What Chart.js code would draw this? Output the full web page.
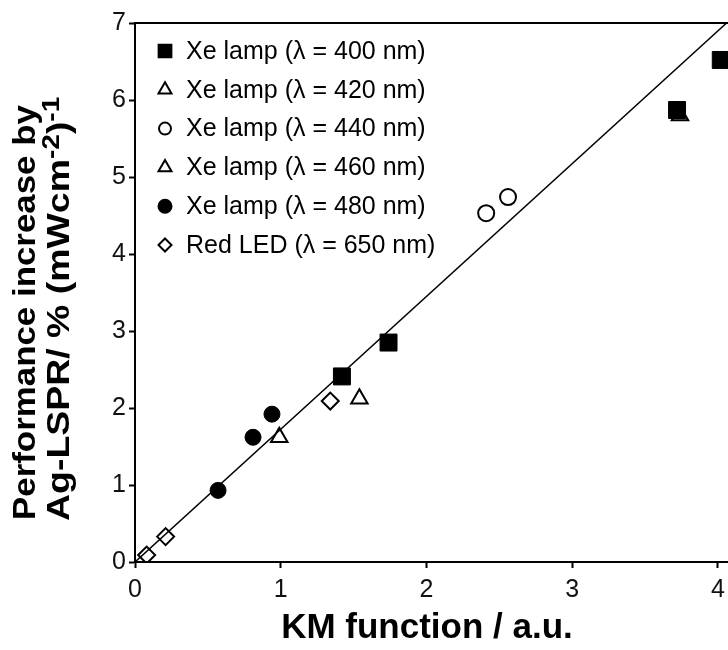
<!DOCTYPE html>
<html>
<head>
<meta charset="utf-8">
<title>KM function vs. performance increase</title>
<script src="https://cdn.jsdelivr.net/npm/chart.js@4/dist/chart.umd.min.js"></script>
<style>
  html, body { margin: 0; padding: 0; background: #fff; overflow: hidden; width: 728px; height: 650px; }
  #wrap { width: 760px; height: 650px; }
  canvas { display: block; }
</style>
</head>
<body>
<div id="wrap"><canvas id="chart" width="760" height="650"></canvas></div>
<script>
// Performance increase by Ag-LSPR versus Kubelka-Munk function, per light source
const xe400X = [1.42, 1.74, 3.72, 4.02];
const xe400Y = [2.41, 2.85, 5.87, 6.52];
const xe420X = [1.54, 3.74];
const xe420Y = [2.12, 5.80];
const xe440X = [2.41, 2.56];
const xe440Y = [4.53, 4.74];
const xe460X = [0.99];
const xe460Y = [1.62];
const xe480X = [0.57, 0.81, 0.94];
const xe480Y = [0.93, 1.62, 1.92];
const ledX = [0.08, 0.21, 1.34];
const ledY = [0.09, 0.33, 2.09];

// Linear fit through the origin (end points)
const fitX = [0, 4.06];
const fitY = [0, 7];

const seriesLabels = [
  'Xe lamp (\u03bb = 400 nm)',
  'Xe lamp (\u03bb = 420 nm)',
  'Xe lamp (\u03bb = 440 nm)',
  'Xe lamp (\u03bb = 460 nm)',
  'Xe lamp (\u03bb = 480 nm)',
  'Red LED (\u03bb = 650 nm)'
];
const xTickValues = [0, 1, 2, 3, 4];
const yTickValues = [0, 1, 2, 3, 4, 5, 6, 7];

const xTitle = 'KM function / a.u.';
const yTitleLine1 = [{ t: 'Performance increase by' }];
const yTitleLine2 = [
  { t: 'Ag-LSPR/ % (mWcm' }, { t: '-2', sup: true }, { t: ')' }, { t: '-1', sup: true }
];

const FONT = "'Liberation Sans', Arial, Helvetica, sans-serif";
const INK = '#000';

const pts = (xs, ys) => xs.map((x, i) => ({ x, y: ys[i] }));

// Marker shape used in the legend (same shapes as the plotted points)
function drawMarker(ctx, style, x, y, r, filled, bw) {
  ctx.save();
  ctx.beginPath();
  if (style === 'rect') {
    const s = r * Math.SQRT1_2;
    ctx.rect(x - s, y - s, 2 * s, 2 * s);
  } else if (style === 'circle') {
    ctx.arc(x, y, r, 0, Math.PI * 2);
  } else if (style === 'triangle') {
    const a = Math.PI * 2 / 3;
    ctx.moveTo(x, y - r);
    ctx.lineTo(x + Math.sin(a) * r, y - Math.cos(a) * r);
    ctx.lineTo(x + Math.sin(2 * a) * r, y - Math.cos(2 * a) * r);
  } else if (style === 'rectRot') {
    ctx.moveTo(x - r, y);
    ctx.lineTo(x, y - r);
    ctx.lineTo(x + r, y);
    ctx.lineTo(x, y + r);
  }
  ctx.closePath();
  ctx.lineWidth = bw;
  ctx.strokeStyle = INK;
  if (filled) { ctx.fillStyle = INK; ctx.fill(); }
  ctx.stroke();
  ctx.restore();
}

// Legend box inside the plot, top-left
const legendPlugin = {
  id: 'insideLegend',
  afterDatasetsDraw(chart) {
    const ctx = chart.ctx;
    const items = chart.data.datasets.filter(d => d.legendStyle);
    ctx.save();
    ctx.font = '25px ' + FONT;
    ctx.fillStyle = INK;
    ctx.textBaseline = 'middle';
    ctx.textAlign = 'left';
    items.forEach((d, i) => {
      const y = 51 + i * 38.8;
      drawMarker(ctx, d.legendStyle.shape, 165, y, d.legendStyle.r, d.legendStyle.filled, 2);
      ctx.fillText(d.label, 186, y + 1);
    });
    ctx.restore();
  }
};

// Top and right edges of the plot frame
const framePlugin = {
  id: 'frame',
  afterDraw(chart) {
    const { ctx, chartArea: a } = chart;
    ctx.save();
    ctx.strokeStyle = INK;
    ctx.lineWidth = 2;
    ctx.beginPath();
    ctx.moveTo(a.left - 1, a.top);
    ctx.lineTo(a.right, a.top);
    ctx.lineTo(a.right, a.bottom);
    ctx.stroke();
    ctx.restore();
  }
};

function drawRich(ctx, parts, size, supScale, supRaise) {
  let cx = 0;
  for (const p of parts) {
    ctx.font = 'bold ' + (p.sup ? Math.round(size * supScale) : size) + 'px ' + FONT;
    ctx.fillText(p.t, cx, p.sup ? -size * supRaise : 0);
    cx += ctx.measureText(p.t).width;
  }
}

// Axis titles (the y title carries superscripts)
const titlesPlugin = {
  id: 'axisTitles',
  afterDraw(chart) {
    const ctx = chart.ctx;
    ctx.save();
    ctx.fillStyle = INK;
    ctx.textBaseline = 'alphabetic';
    ctx.textAlign = 'center';
    ctx.font = 'bold 35px ' + FONT;
    ctx.fillText(xTitle, 427, 638);

    ctx.textAlign = 'left';
    ctx.save();
    ctx.translate(35, 520);
    ctx.rotate(-Math.PI / 2);
    ctx.scale(1.09, 1);
    drawRich(ctx, yTitleLine1, 32, 0.7, 0.3);
    ctx.restore();
    ctx.save();
    ctx.translate(69, 521);
    ctx.rotate(-Math.PI / 2);
    ctx.scale(1.17, 1);
    drawRich(ctx, yTitleLine2, 32, 0.74, 0.3);
    ctx.restore();
    ctx.restore();
  }
};

const markerSet = (label, xs, ys, shape, r, filled, legendR) => ({
  label,
  data: pts(xs, ys),
  pointStyle: shape,
  pointRadius: r,
  pointHoverRadius: r,
  borderWidth: filled ? 1 : 2,
  pointBorderWidth: filled ? 1 : 2,
  borderColor: INK,
  backgroundColor: filled ? INK : 'rgba(255,255,255,0)',
  showLine: false,
  legendStyle: { shape, r: legendR, filled }
});

const axisCommon = {
  type: 'linear',
  border: { display: true, color: INK, width: 2 },
  grid: { display: true, drawOnChartArea: false, drawTicks: true, tickLength: 6, tickWidth: 2, tickColor: INK },
  title: { display: false }
};

new Chart(document.getElementById('chart'), {
  type: 'scatter',
  data: {
    datasets: [
      {
        label: 'fit',
        data: pts(fitX, fitY),
        showLine: true,
        borderColor: INK,
        borderWidth: 1.5,
        pointRadius: 0,
        pointHoverRadius: 0,
        fill: false
      },
      markerSet(seriesLabels[0], xe400X, xe400Y, 'rect', 12, true, 9),
      markerSet(seriesLabels[1], xe420X, xe420Y, 'triangle', 9.5, false, 7.5),
      markerSet(seriesLabels[2], xe440X, xe440Y, 'circle', 8, false, 6),
      markerSet(seriesLabels[3], xe460X, xe460Y, 'triangle', 9.5, false, 7.5),
      markerSet(seriesLabels[4], xe480X, xe480Y, 'circle', 8, true, 6.5),
      markerSet(seriesLabels[5], ledX, ledY, 'rectRot', 8.5, false, 6.5)
    ]
  },
  options: {
    responsive: false,
    animation: false,
    devicePixelRatio: 1,
    events: [],
    layout: { padding: { top: 23, right: 6, bottom: 0, left: 0 } },
    plugins: { legend: { display: false }, tooltip: { enabled: false } },
    scales: {
      x: {
        ...axisCommon,
        position: 'bottom',
        min: 0,
        max: 4.2,
        afterBuildTicks(s) { s.ticks = xTickValues.map(v => ({ value: v })); },
        afterFit(s) { s.height = 88; },
        ticks: { font: { family: FONT, size: 25 }, color: '#111', padding: 7, maxRotation: 0 }
      },
      y: {
        ...axisCommon,
        position: 'left',
        min: 0,
        max: 7,
        afterBuildTicks(s) { s.ticks = yTickValues.map(v => ({ value: v })); },
        afterFit(s) { s.width = 135; },
        ticks: { font: { family: FONT, size: 25 }, color: '#111', padding: 3 }
      }
    }
  },
  plugins: [framePlugin, legendPlugin, titlesPlugin]
});
</script>
</body>
</html>
